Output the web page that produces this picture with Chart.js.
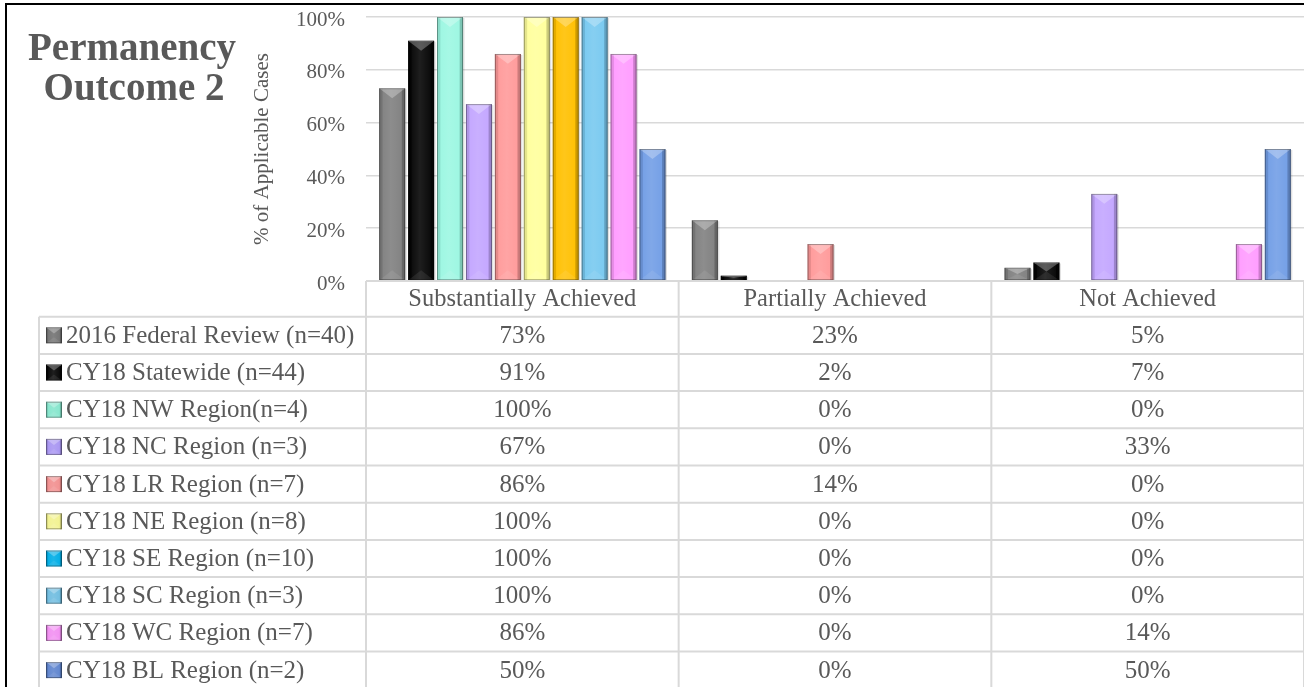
<!DOCTYPE html>
<html>
<head>
<meta charset="utf-8">
<script src="https://cdn.jsdelivr.net/npm/chart.js@4/dist/chart.umd.min.js"></script>
<style>
html,body{margin:0;padding:0;background:#fff;overflow:hidden}
#wrap{width:1304px;height:687px;position:relative}
</style>
</head>
<body>
<div id="wrap"><canvas id="c" width="1304" height="687"></canvas></div>
<script>
// ---- data ----
const chartTitleLines = ['Permanency', 'Outcome 2'];
const yAxisTitle = '% of Applicable Cases';
const categories = ['Substantially Achieved', 'Partially Achieved', 'Not Achieved'];
const seriesNames = [
  '2016 Federal Review (n=40)',
  'CY18 Statewide (n=44)',
  'CY18 NW Region(n=4)',
  'CY18 NC Region (n=3)',
  'CY18 LR Region (n=7)',
  'CY18 NE Region (n=8)',
  'CY18 SE Region (n=10)',
  'CY18 SC Region (n=3)',
  'CY18 WC Region (n=7)',
  'CY18 BL Region (n=2)'
];
const federal2016 = [73, 23, 5];
const statewide = [91, 2, 7];
const nwRegion = [100, 0, 0];
const ncRegion = [67, 0, 33];
const lrRegion = [86, 14, 0];
const neRegion = [100, 0, 0];
const seRegion = [100, 0, 0];
const scRegion = [100, 0, 0];
const wcRegion = [86, 0, 14];
const blRegion = [50, 0, 50];
const seriesValues = [federal2016, statewide, nwRegion, ncRegion, lrRegion, neRegion, seRegion, scRegion, wcRegion, blRegion];
const yTicks = [0, 20, 40, 60, 80, 100];

// ---- styles ----
const barColors = ['#808080', '#050505', '#9cf7e2', '#c3a6ff', '#ff9a9a', '#ffff9c', '#ffc000', '#78c9f0', '#ff9cff', '#729ee6'];
const keyColors = ['#737373', '#050505', '#86e6cd', '#a996f2', '#f29090', '#f2f290', '#00aee6', '#70bde0', '#f290f2', '#5f85cf'];
const textColor = '#595959';
const lineColor = '#d9d9d9';
const FONT = "'Liberation Serif', 'Times New Roman', serif";

function drawBevel(ctx, l, t, w, h) {
  ctx.save();
  const r = l + w;
  const e = Math.max(2, w * 0.13);
  ctx.fillStyle = 'rgba(0,0,0,0.10)';
  ctx.fillRect(l, t, e, h);
  ctx.fillStyle = 'rgba(0,0,0,0.20)';
  ctx.fillRect(r - e, t, e, h);
  const g = ctx.createLinearGradient(l, 0, r, 0);
  g.addColorStop(0, 'rgba(255,255,255,0)');
  g.addColorStop(0.45, 'rgba(255,255,255,0.10)');
  g.addColorStop(1, 'rgba(255,255,255,0)');
  ctx.fillStyle = g;
  ctx.fillRect(l + e, t, w - 2 * e, h);
  const b = Math.min(w * 0.38, h / 2);
  ctx.beginPath();
  ctx.moveTo(l, t);
  ctx.lineTo(r, t);
  ctx.lineTo(l + w / 2, t + b);
  ctx.closePath();
  ctx.fillStyle = 'rgba(255,255,255,0.28)';
  ctx.fill();
  ctx.beginPath();
  ctx.moveTo(l, t + h);
  ctx.lineTo(r, t + h);
  ctx.lineTo(l + w / 2, t + h - b);
  ctx.closePath();
  ctx.fillStyle = 'rgba(255,255,255,0.08)';
  ctx.fill();
  ctx.fillStyle = 'rgba(255,255,255,0.35)';
  ctx.fillRect(l + 1, t, w - 2, 1);
  ctx.strokeStyle = 'rgba(0,0,0,0.35)';
  ctx.lineWidth = 1;
  ctx.strokeRect(l + 0.5, t + 0.5, w - 1, h - 1);
  ctx.restore();
}

const bevelPlugin = {
  id: 'bevel',
  afterDatasetsDraw(chart) {
    const ctx = chart.ctx;
    chart.data.datasets.forEach((ds, i) => {
      const meta = chart.getDatasetMeta(i);
      meta.data.forEach(el => {
        const p = el.getProps(['x', 'y', 'base', 'width'], true);
        const top = Math.min(p.y, p.base), bot = Math.max(p.y, p.base);
        const h = bot - top;
        if (h < 0.5) return;
        ctx.save();
        ctx.fillStyle = 'rgba(0,0,0,0.12)';
        ctx.fillRect(p.x + p.width / 2, top + 1, 1.5, h - 1);
        ctx.restore();
        drawBevel(ctx, p.x - p.width / 2, top, p.width, h);
      });
    });
  }
};

const decorPlugin = {
  id: 'decor',
  afterDraw(chart) {
    const ctx = chart.ctx;
    const ca = chart.chartArea;
    const xs = chart.scales.x;
    const H = chart.height;
    const headH = 35.7, rowH = 37.2, labelLeft = 39;
    const n = categories.length;
    const catW = (ca.right - ca.left) / n;
    ctx.save();
    ctx.strokeStyle = lineColor;
    ctx.lineWidth = 2;
    const line = (x1, y1, x2, y2) => { ctx.beginPath(); ctx.moveTo(x1, y1); ctx.lineTo(x2, y2); ctx.stroke(); };
    for (let i = 0; i <= n; i++) {
      const xx = xs.getPixelForValue(0) - catW / 2 + i * catW;
      line(xx, ca.bottom, xx, H);
    }
    line(labelLeft, ca.bottom + headH, labelLeft, H);
    for (let r = 0; r <= seriesNames.length; r++) {
      const yy = ca.bottom + headH + r * rowH;
      line(labelLeft, yy, ca.right, yy);
    }
    line(ca.left, ca.bottom, ca.right, ca.bottom);

    ctx.fillStyle = textColor;
    ctx.font = '24.5px ' + FONT;
    ctx.textAlign = 'center';
    ctx.textBaseline = 'middle';
    categories.forEach((c, i) => {
      ctx.fillText(c, xs.getPixelForValue(i), ca.bottom + headH / 2 + 1);
    });
    ctx.font = '25px ' + FONT;
    seriesNames.forEach((name, r) => {
      const cy = ca.bottom + headH + r * rowH + rowH / 2 + 1;
      const kx = 46, ks = 16, ky = cy - ks / 2 - 1;
      ctx.fillStyle = keyColors[r];
      ctx.fillRect(kx, ky, ks, ks);
      drawBevel(ctx, kx, ky, ks, ks);
      ctx.fillStyle = textColor;
      ctx.textAlign = 'left';
      ctx.fillText(name, 66, cy);
      ctx.textAlign = 'center';
      seriesValues[r].forEach((v, c) => {
        ctx.fillText(v + '%', xs.getPixelForValue(c), cy);
      });
    });

    ctx.font = 'bold 39px ' + FONT;
    ctx.textAlign = 'center';
    ctx.textBaseline = 'alphabetic';
    ctx.fillStyle = textColor;
    ctx.fillText(chartTitleLines[0], 132, 60);
    ctx.fillText(chartTitleLines[1], 134, 100);

    ctx.fillStyle = '#000';
    ctx.fillRect(5, 3, chart.width - 5, 2);
    ctx.fillRect(5, 3, 2, H - 3);
    ctx.restore();
  }
};

const datasets = seriesNames.map((name, i) => ({
  label: name,
  data: seriesValues[i],
  backgroundColor: barColors[i],
  borderWidth: 0,
  categoryPercentage: 0.925,
  barPercentage: 0.9
}));

new Chart(document.getElementById('c'), {
  type: 'bar',
  data: { labels: categories, datasets },
  options: {
    responsive: false,
    animation: false,
    devicePixelRatio: 1,
    layout: { padding: { top: 17, left: 246, right: 0, bottom: 0 } },
    plugins: { legend: { display: false }, tooltip: { enabled: false }, title: { display: false } },
    scales: {
      x: {
        display: true,
        grid: { display: false },
        border: { display: false },
        ticks: { display: false },
        afterFit: s => { s.height = 406; }
      },
      y: {
        min: 0, max: 100,
        afterFit: s => { s.width = 120; },
        afterBuildTicks: s => { s.ticks = yTicks.map(v => ({ value: v })); },
        ticks: {
          padding: 3,
          labelOffset: 3,
          color: textColor,
          font: { family: FONT, size: 21 },
          callback: v => v + '%'
        },
        grid: { color: lineColor, lineWidth: 1.5, drawTicks: true, tickLength: 18, tickColor: 'rgba(0,0,0,0)' },
        border: { display: false },
        title: {
          display: true,
          text: yAxisTitle,
          color: textColor,
          font: { family: FONT, size: 21 },
          padding: { top: 4, bottom: 4 }
        }
      }
    }
  },
  plugins: [bevelPlugin, decorPlugin]
});
</script>
</body>
</html>
